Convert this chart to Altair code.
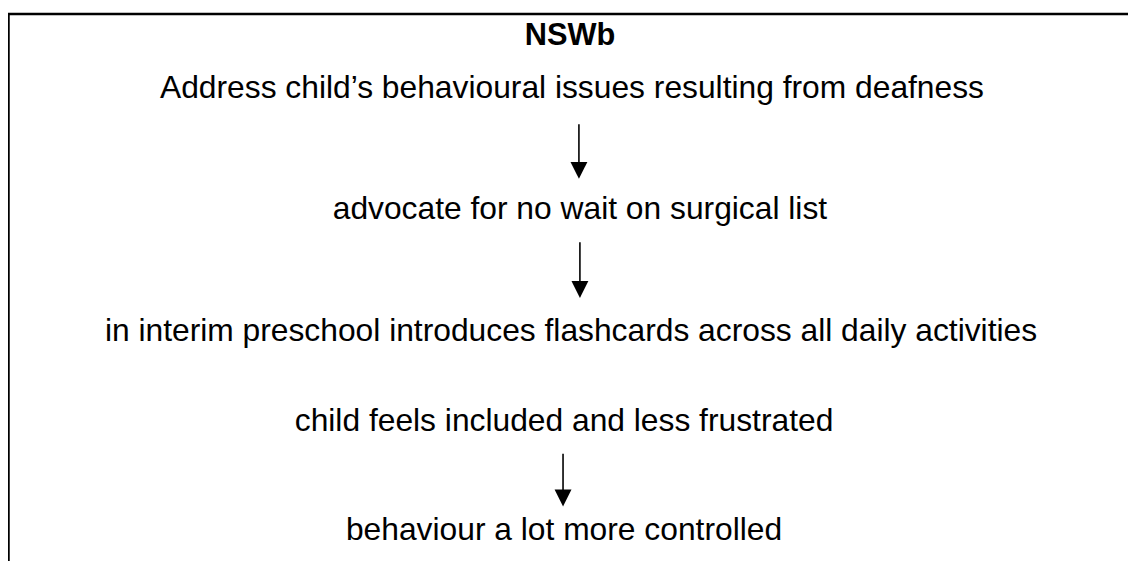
import altair as alt
import pandas as pd

# Flowchart content
titles = ["NSWb"]
title_x = [574]
title_y = [43]

steps = [
    "Address child\u2019s behavioural issues resulting from deafness",
    "advocate for no wait on surgical list",
    "in interim preschool introduces flashcards across all daily activities",
    "child feels included and less frustrated",
    "behaviour a lot more controlled",
]
step_x = [576, 584, 575, 568, 568]
step_y = [97, 219, 341, 432, 542]

# arrows (shaft start, tip)
arrow_x = [583, 584, 567]
arrow_y0 = [123, 242, 455]
arrow_y1 = [178, 298, 508]
head_len = 17

# frame lines
frame_x = [8.5, 8.5, 1136]
frame_y = [563, 12, 12]

W, H = 1128, 555
xs = alt.Scale(domain=[8, 8 + W], nice=False, zero=False)
ys = alt.Scale(domain=[8, 8 + H], nice=False, zero=False, reverse=True)

frame_df = pd.DataFrame({"x": frame_x, "y": frame_y, "o": list(range(len(frame_x)))})
frame = alt.Chart(frame_df).mark_line(color="black", strokeWidth=2.5, clip=False).encode(
    x=alt.X("x:Q", scale=xs, axis=None),
    y=alt.Y("y:Q", scale=ys, axis=None),
    order="o:Q",
)

title_df = pd.DataFrame({"t": titles, "x": title_x, "y": title_y})
title = alt.Chart(title_df).mark_text(
    font="Liberation Sans", fontSize=31, fontWeight="bold", color="black",
    align="center", baseline="alphabetic",
).encode(x=alt.X("x:Q", scale=xs, axis=None), y=alt.Y("y:Q", scale=ys, axis=None), text="t:N")

step_df = pd.DataFrame({"t": steps, "x": step_x, "y": step_y})
text = alt.Chart(step_df).mark_text(
    font="Liberation Sans", fontSize=32, color="black",
    align="center", baseline="alphabetic",
).encode(x=alt.X("x:Q", scale=xs, axis=None), y=alt.Y("y:Q", scale=ys, axis=None), text="t:N")

arr_df = pd.DataFrame({
    "x": arrow_x,
    "y0": arrow_y0,
    "y1": [b - head_len + 1 for b in arrow_y1],
    "yh": [b - head_len / 2 for b in arrow_y1],
})
shaft = alt.Chart(arr_df).mark_rule(color="black", strokeWidth=1.6).encode(
    x=alt.X("x:Q", scale=xs, axis=None),
    y=alt.Y("y0:Q", scale=ys, axis=None),
    y2="y1:Q",
)
head = alt.Chart(arr_df).mark_point(
    shape="M-1,-1L1,-1L0,1Z", filled=True, color="black", opacity=1, size=head_len * head_len,
    strokeWidth=0,
).encode(
    x=alt.X("x:Q", scale=xs, axis=None),
    y=alt.Y("yh:Q", scale=ys, axis=None),
)

chart = alt.layer(frame, title, text, shaft, head).properties(
    width=W, height=H, padding=0, autosize=alt.AutoSizeParams(type="none"),
    background="white",
).configure_view(stroke=None)

chart.save("out.html", embed_options={"renderer": "svg", "actions": False})
